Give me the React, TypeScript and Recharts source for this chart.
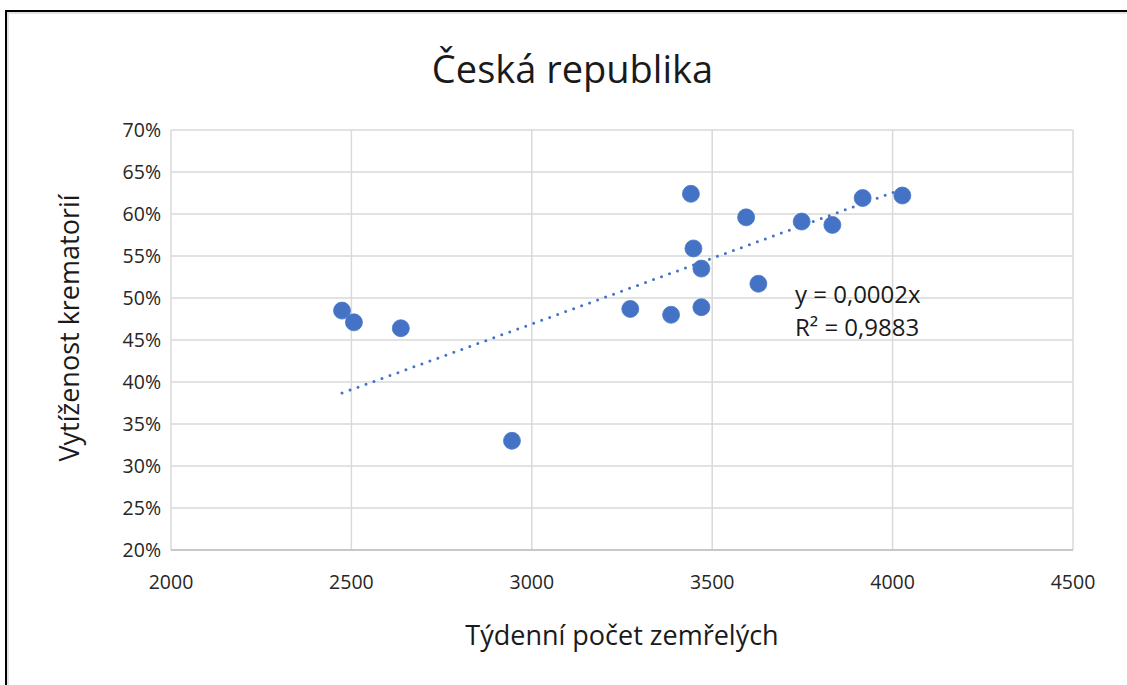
import { ScatterChart, Scatter, XAxis, YAxis, CartesianGrid } from "recharts";

// weekly deaths vs crematoria utilisation (%)
const deaths = [2474, 2507, 2637, 2945, 3273, 3386, 3441, 3448, 3470, 3470, 3594, 3628, 3748, 3833, 3917, 4027];
const utilization = [48.5, 47.1, 46.4, 33.0, 48.7, 48.0, 62.4, 55.9, 53.5, 48.9, 59.6, 51.7, 59.1, 58.7, 61.9, 62.2];

const xTicks = [2000, 2500, 3000, 3500, 4000, 4500];
const yTicks = [20, 25, 30, 35, 40, 45, 50, 55, 60, 65, 70];

const title = "Česká republika";
const xTitle = "Týdenní počet zemřelých";
const yTitle = "Vytíženost krematorií";
const eqText = "y = 0,0002x";
const r2Text = "R² = 0,9883";

const points = deaths.map((x, i) => ({ x, y: utilization[i] }));

// linear trend through origin (least squares)
const sxy = points.reduce((s, p) => s + p.x * p.y, 0);
const sxx = points.reduce((s, p) => s + p.x * p.x, 0);
const slope = sxy / sxx;
const xMin = Math.min(...deaths);
const xMax = Math.max(...deaths);
const trend = [
    { x: xMin, y: slope * xMin },
    { x: xMax, y: slope * xMax },
];

const FONT = "'Open Sans', sans-serif";
const BLUE = "#4472C4";
const TEXT = "#262626";

export default function App() {
    return (
        <div
            style={{
                position: "absolute",
                left: 0,
                top: 0,
                width: 1127,
                height: 685,
                overflow: "hidden",
                background: "#fff",
                fontFamily: FONT,
            }}
        >
            {/* frame */}
            <div
                style={{
                    position: "absolute",
                    left: 5,
                    top: 10,
                    width: 1200,
                    height: 800,
                    borderTop: "2px solid #000",
                    borderLeft: "2px solid #000",
                }}
            >
                <div
                    style={{
                        width: "100%",
                        height: "100%",
                        borderTop: "2px solid #e3e3e3",
                        borderLeft: "2px solid #e3e3e3",
                    }}
                />
            </div>

            <div
                style={{
                    position: "absolute",
                    left: 0,
                    width: 1145,
                    top: 43,
                    textAlign: "center",
                    fontSize: 38,
                    color: "#1a1a1a",
                    lineHeight: "50px",
                }}
            >
                {title}
            </div>

            <div style={{ position: "absolute", left: 0, top: 0 }}>
                <ScatterChart
                    width={1127}
                    height={685}
                    margin={{ top: 130, right: 54, bottom: 75, left: 101 }}
                >
                    <CartesianGrid stroke="#d9d9d9" strokeWidth={1.5} />
                    <XAxis
                        type="number"
                        dataKey="x"
                        domain={[2000, 4500]}
                        ticks={xTicks}
                        height={60}
                        tickLine={false}
                        tickSize={0}
                        tickMargin={25}
                        axisLine={{ stroke: "#bfbfbf", strokeWidth: 1.5 }}
                        tick={{ fill: TEXT, fontSize: 19.5, fontFamily: FONT }}
                    />
                    <YAxis
                        type="number"
                        dataKey="y"
                        domain={[20, 70]}
                        ticks={yTicks}
                        width={70}
                        axisLine={false}
                        tickLine={false}
                        tickSize={0}
                        tickMargin={10}
                        tickFormatter={(v) => `${v}%`}
                        tick={{ fill: TEXT, fontSize: 19.5, fontFamily: FONT }}
                    />
                    <Scatter
                        data={trend}
                        isAnimationActive={false}
                        line={{
                            stroke: BLUE,
                            strokeWidth: 3,
                            strokeDasharray: "0 8.5",
                            strokeLinecap: "round",
                        }}
                        shape={() => <g />}
                        legendType="none"
                    />
                    <Scatter
                        data={points}
                        isAnimationActive={false}
                        fill={BLUE}
                        shape={(p: any) => (
                            <circle cx={p.cx} cy={p.cy} r={8.5} fill={BLUE} stroke="#4a78c8" strokeWidth={0.8} />
                        )}
                    />
                </ScatterChart>
            </div>

            <div
                style={{
                    position: "absolute",
                    left: 68,
                    top: 328,
                    transform: "translate(-50%, -50%) rotate(-90deg)",
                    whiteSpace: "nowrap",
                    fontSize: 27,
                    color: "#1a1a1a",
                }}
            >
                {yTitle}
            </div>

            <div
                style={{
                    position: "absolute",
                    left: 622,
                    top: 634,
                    transform: "translate(-50%, -50%)",
                    whiteSpace: "nowrap",
                    fontSize: 27,
                    color: "#1a1a1a",
                }}
            >
                {xTitle}
            </div>

            <div
                style={{
                    position: "absolute",
                    left: 795,
                    top: 277,
                    fontSize: 24,
                    lineHeight: "33px",
                    color: "#1a1a1a",
                }}
            >
                <div>{eqText}</div>
                <div>{r2Text}</div>
            </div>
        </div>
    );
}
